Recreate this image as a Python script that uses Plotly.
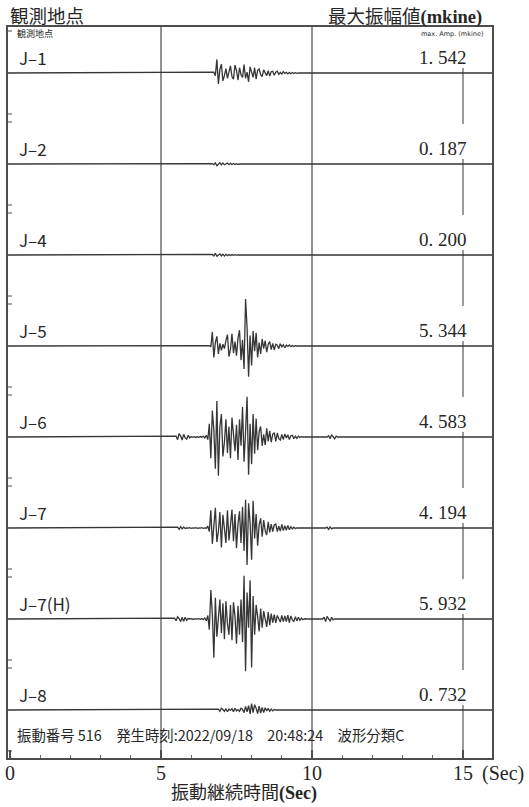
import plotly.graph_objects as go

# ---------------------------------------------------------------- data
STATIONS = ["J–1", "J–2", "J–4", "J–5", "J–6", "J–7", "J–7(H)", "J–8"]
START_TIMES = [6.75, 6.70, 6.70, 6.60, 5.50, 5.55, 5.45, 6.90]   # s, first sample
DT = 0.05                                                          # s, sample step

# velocity samples (mkine) for each station, starting at START_TIMES
J1 = [0.1, -0.3, 1.542, -1.25, 0.4, 1.0, -0.9, -0.3, 0.5, -0.6,
      0.2, 0.8, -0.4, -0.7, 0.9, 0.3, -0.8, 0.6, -0.2, -0.5,
      0.95, -0.6, 0.1, -1.0, 0.7, 0.2, -0.5, 0.6, -0.7, 0.3,
      0.45, -0.2, -0.4, 0.35, 0.1, -0.3, 0.25, -0.35, 0.15, 0.2,
      -0.25, 0.1, 0.2, -0.15, 0.05, -0.12, 0.15, -0.05, 0.08, -0.1,
      0.06, -0.08, 0.05, -0.05, 0.04, -0.03, 0.02, 0.0]
J2 = [0.05, -0.08, 0.12, -0.187, 0.05, 0.15, -0.1, 0.12, -0.09, 0.02,
      0.1, -0.08, 0.07, -0.06, 0.05, -0.05, 0.04, -0.03, 0.02, 0.0]
J4 = [0.06, -0.1, 0.2, -0.15, 0.03, 0.12, -0.1, 0.09, -0.12, 0.08,
      -0.07, 0.06, -0.05, 0.05, -0.04, 0.03, -0.02, 0.0]
J5 = [0.05, -0.1,
      1.6, -1.3, 0.4, 1.1, -0.9, 0.3, -0.5, 0.2, -0.3, 0.6,
      1.3, -1.2, -0.4, 1.4, -0.8, 0.5, -1.1, 0.9, 1.8, -1.6,
      0.7, -2.6, 5.344, 2.1, -3.5, 1.2, -2.2, 1.7, -0.6, 1.5,
      -1.3, 0.4, -0.9, 0.8, -0.3, 0.6, -0.7, 0.2, 0.5, -0.4,
      0.3, -0.45, 0.2, 0.1, -0.3, 0.25, -0.1, 0.15, -0.2, 0.1,
      -0.05, 0.12, -0.08, 0.05, -0.05, 0.03, 0.0]
J6 = [0.1, -0.3, 0.4, 0.1, -0.35, 0.3, -0.1, -0.25, 0.2, -0.1,
      0.05, -0.03, 0.04, -0.05, 0.02, -0.04, 0.05, -0.02, 0.08, -0.1,
      0.2, -0.3, 1.5, -2.4,
      3.0, 0.8, -3.6, 4.1, -4.4, 1.2, 2.6, -2.2, -0.6, 2.0,
      -1.8, 1.2, -2.4, 2.2, 0.4, -1.6, 1.4, -2.6, 2.0, -1.0,
      3.4, -2.8, 0.6, 4.583, -4.3, 1.5, -3.1, 2.6, -1.9, 2.1,
      -1.5, 0.6, 1.2, -1.0, 0.3, -0.9, 1.0, -0.5, 0.7, -0.6,
      0.3, 0.5, -0.5, 0.45, -0.2, -0.35, 0.3, -0.3, 0.35, -0.1,
      0.25, -0.3, 0.15, 0.2, -0.2, 0.1, -0.15, 0.1, -0.05, 0.03,
      0, 0, 0, 0, 0, 0, 0, 0, 0, 0, 0, 0, 0, 0, 0, 0, 0,
      0.15, -0.2, 0.25, 0.05, -0.2, 0.1, 0.0]
J7 = [0.1, -0.15, 0.15, -0.1, 0.1, -0.05,
      0.02, -0.02, 0.03, -0.03, 0.02, -0.02, 0.03, -0.03, 0.02, -0.02,
      0.03, -0.03, 0.02, -0.02,
      0.2, -0.4,
      2.0, -1.8, 0.5, 2.3, -1.6, -0.4, 1.8, -2.2, 1.5, -0.6,
      -1.7, 2.0, -1.4, 0.3, 2.1, -1.5, 1.6, -2.3, 0.5, 1.9,
      -1.7, 2.4, -2.6, 3.2, -4.194, 2.8, 0.6, -3.6, 3.1, -1.2,
      1.6, -2.0, 0.4, 1.1, -1.0, 0.9, -0.3, -0.8, 0.7, -0.5,
      0.45, -0.4, 0.35, 0.45, -0.4, 0.2, -0.35, 0.4, -0.3, 0.25,
      -0.25, 0.3, -0.2, 0.15, -0.1, 0.1, -0.05, 0.0,
      0, 0, 0, 0, 0, 0, 0, 0, 0, 0, 0, 0, 0, 0, 0, 0, 0, 0, 0,
      0.1, -0.15, 0.12, -0.1, 0.0]
J7H = [0.1, -0.2, 0.25, 0.05, -0.3, 0.2, -0.25, 0.2, -0.15, 0.05,
       0.03, -0.03, 0.02, -0.03, 0.03, -0.02, 0.03, -0.03, 0.05, -0.05,
       0.1, -0.2, 0.4,
       -1.2, 3.3, 0.6, -4.4, 2.4, -2.0, 0.5, 2.2, -1.6, 1.8,
       -2.3, 2.0, -0.5, -1.8, 1.6, -2.4, 1.9, 0.3, -2.8, 1.5,
       -1.8, 2.2, -2.6, 4.9, -5.932, 3.0, -1.0, 4.4, -5.5, 2.6,
       -1.8, 1.6, 0.3, -1.4, 1.2, -1.0, 0.9, -0.2, -0.9, 0.8,
       -0.7, 0.6, -0.4, 0.5, -0.45, 0.4, 0.1, -0.35, 0.4, -0.3,
       0.35, -0.3, 0.45, -0.4, 0.35, -0.1, -0.3, 0.25, -0.2, 0.2,
       -0.15, 0.1, -0.08, 0.03,
       0, 0, 0, 0, 0, 0, 0, 0, 0, 0, 0, 0,
       0.2, -0.3, 0.3, 0.05, -0.25, 0.2, -0.1, 0.0]
J8 = [0.1, -0.15, 0.2, 0.05, -0.15, 0.15, -0.2, 0.1, -0.05, 0.15,
      -0.2, 0.2, -0.1, 0.05, -0.15, 0.2, 0.1, -0.3, 0.4, -0.2,
      0.5, -0.45, 0.732, -0.3, 0.6, 0.2, -0.4, 0.45, -0.35, 0.3,
      -0.3, 0.25, -0.1, 0.2, -0.15, 0.1, -0.1, 0.05, 0.0]
WAVES = [J1, J2, J4, J5, J6, J7, J7H, J8]

TICK_SECONDS = [0, 5, 10, 15]
EVENT_INFO = "振動番号 516　発生時刻:2022/09/18　20:48:24　波形分類C"

# ---------------------------------------------------------------- geometry
FIG_W, FIG_H = 529, 807
LEFT, RIGHT, TOP, BOTTOM = 8, 492, 27, 758          # frame edges (px)
PLOT_W, PLOT_H = RIGHT - LEFT, BOTTOM - TOP
PX_PER_SEC, ZERO_PX = 30.2, 10
PX_PER_UNIT = 8.8                                     # px per mkine
FIRST_BASE_PX, ROW_PX = 73, 91

X_RANGE = [(LEFT - ZERO_PX) / PX_PER_SEC, (RIGHT - ZERO_PX) / PX_PER_SEC]
Y_TOP = (FIRST_BASE_PX - TOP) / PX_PER_UNIT
Y_RANGE = [Y_TOP - PLOT_H / PX_PER_UNIT, Y_TOP]
ROW_GAP = ROW_PX / PX_PER_UNIT
BASES = [-k * ROW_GAP for k in range(len(STATIONS))]


def u(px):
    """pixel distance -> y data units"""
    return px / PX_PER_UNIT


def paper_x(px):
    return (px - LEFT) / PLOT_W


def paper_y(py):
    return (BOTTOM - py) / PLOT_H


SERIF = "Liberation Serif"
CJK = "Noto Sans CJK JP"
INK = "#262626"
FRAME = "#4d4d4d"

fig = go.Figure()

# ---------------------------------------------------------------- traces
for name, t0, wave, base in zip(STATIONS, START_TIMES, WAVES, BASES):
    xs = [X_RANGE[0]] + [t0 + i * DT for i in range(len(wave))] + [X_RANGE[1]]
    ys = [base] + [base + v for v in wave] + [base]
    fig.add_trace(go.Scatter(x=xs, y=ys, mode="lines", name=name,
                             line=dict(color="#363636", width=1.3),
                             hoverinfo="skip", showlegend=False))

shapes = []
# full-height guide lines at 5 s and 10 s
for t in (5, 10):
    shapes.append(dict(type="line", xref="x", yref="paper", x0=t, x1=t, y0=0, y1=1,
                       line=dict(color="#6e6e6e", width=1.5), layer="below"))
# 15 s guide, broken where the amplitude labels sit
for k, base in enumerate(BASES):
    y_end = BASES[k + 1] + u(40) if k + 1 < len(BASES) else Y_RANGE[0]
    shapes.append(dict(type="line", xref="x", yref="y", x0=15, x1=15,
                       y0=base + u(5), y1=y_end,
                       line=dict(color="#7a7a7a", width=1.5), layer="below"))
# small scale ticks on the left edge
for k in range(len(BASES) + 1):
    base = -k * ROW_GAP
    for off in (50, 42):
        y = base + u(off)
        if Y_RANGE[0] < y < Y_RANGE[1]:
            shapes.append(dict(type="line", xref="x", yref="y",
                               x0=X_RANGE[0], x1=X_RANGE[0] + 4 / PX_PER_SEC, y0=y, y1=y,
                               line=dict(color=FRAME, width=1)))

annotations = []
for name, wave, base in zip(STATIONS, WAVES, BASES):
    peak = max(abs(v) for v in wave)
    annotations.append(dict(x=(17 - ZERO_PX) / PX_PER_SEC, y=base + u(16), xref="x", yref="y",
                            text=name, showarrow=False, xanchor="left", yanchor="middle",
                            font=dict(family=CJK, size=17, color=INK)))
    annotations.append(dict(x=(469 - ZERO_PX) / PX_PER_SEC, y=base + u(16), xref="x", yref="y",
                            text=f"{peak:.3f}".replace(".", ". "), showarrow=False,
                            xanchor="right", yanchor="middle",
                            font=dict(family=SERIF, size=19, color=INK)))

# time-axis labels
for t in TICK_SECONDS:
    annotations.append(dict(x=t, y=paper_y(773), xref="x", yref="paper", text=str(t),
                            showarrow=False, xanchor="center", yanchor="middle",
                            font=dict(family=SERIF, size=20, color=INK)))
annotations.append(dict(x=paper_x(480), y=paper_y(773), xref="paper", yref="paper",
                        text="(Sec)", showarrow=False, xanchor="left", yanchor="middle",
                        font=dict(family=SERIF, size=20, color=INK)))
annotations.append(dict(x=paper_x(244), y=paper_y(791), xref="paper", yref="paper",
                        text=f"振動継続時間<span style='font-family:{SERIF}'><b>(Sec)</b></span>",
                        showarrow=False, xanchor="center", yanchor="middle",
                        font=dict(family=CJK, size=18, color=INK)))

# headings above the frame
annotations.append(dict(x=paper_x(8), y=paper_y(15), xref="paper", yref="paper",
                        text="観測地点", showarrow=False, xanchor="left", yanchor="middle",
                        font=dict(family=CJK, size=18.5, color=INK)))
annotations.append(dict(x=paper_x(484), y=paper_y(15), xref="paper", yref="paper",
                        text=f"最大振幅値<span style='font-family:{SERIF}'><b>(mkine)</b></span>",
                        showarrow=False, xanchor="right", yanchor="middle",
                        font=dict(family=CJK, size=18.5, color=INK)))

# small captions inside the frame
annotations.append(dict(x=paper_x(15), y=paper_y(34), xref="paper", yref="paper",
                        text="観測地点", showarrow=False, xanchor="left", yanchor="middle",
                        font=dict(family=CJK, size=9, color=INK)))
annotations.append(dict(x=paper_x(485), y=paper_y(34), xref="paper", yref="paper",
                        text="max. Amp. (mkine)", showarrow=False, xanchor="right", yanchor="middle",
                        font=dict(family="DejaVu Sans", size=6.5, color=INK)))

# event line at the bottom of the frame
annotations.append(dict(x=paper_x(15), y=paper_y(734), xref="paper", yref="paper",
                        text=EVENT_INFO, showarrow=False, xanchor="left", yanchor="middle",
                        font=dict(family=CJK, size=14.4, color=INK)))

fig.update_layout(
    width=FIG_W, height=FIG_H,
    margin=dict(l=LEFT, r=FIG_W - RIGHT, t=TOP, b=FIG_H - BOTTOM, pad=0),
    paper_bgcolor="white", plot_bgcolor="white",
    shapes=shapes, annotations=annotations,
    xaxis=dict(range=X_RANGE, showgrid=False, zeroline=False,
               showline=True, mirror=True, linecolor=FRAME, linewidth=1.5,
               ticks="inside", tick0=0, dtick=5, ticklen=8, tickwidth=1.5, tickcolor=FRAME,
               showticklabels=False,
               minor=dict(ticks="inside", dtick=1, tick0=0, ticklen=3, tickwidth=1, tickcolor="#666666")),
    yaxis=dict(range=Y_RANGE, showgrid=False, zeroline=False, showticklabels=False,
               showline=True, mirror=True, linecolor=FRAME, linewidth=1.5, ticks=""),
)

fig.write_html("out.html")
